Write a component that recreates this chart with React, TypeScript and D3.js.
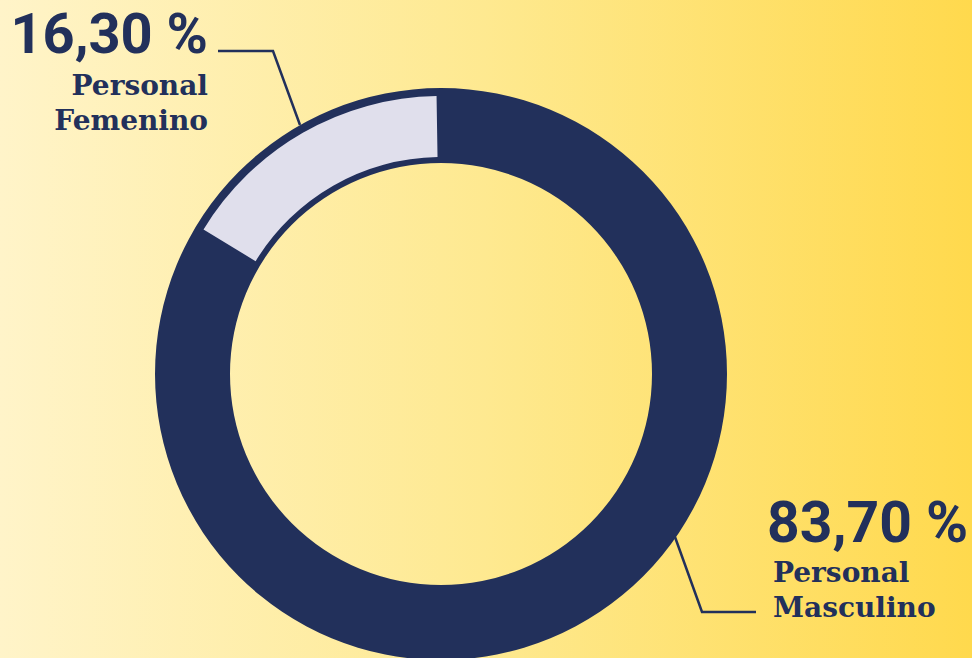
import React from "react";
import * as d3 from "d3";

const categories = ["Personal Femenino", "Personal Masculino"];
const values = [16.3, 83.7];
const valueLabels = ["16,30 %", "83,70 %"];
const labelLines = [
  ["Personal", "Femenino"],
  ["Personal", "Masculino"],
];

const W = 972;
const H = 658;
const NAVY = "#22305b";
const LIGHT = "#e0dfec";

export default function App() {
  const cx = 441;
  const cy = 374;
  const R = 286;
  const r = 211;
  const total = d3.sum(values);
  const angle = d3.scaleLinear().domain([0, total]).range([0, 2 * Math.PI]);
  const femAngle = angle(values[0]);

  const ring = d3.arc<any>().innerRadius(r).outerRadius(R).startAngle(0).endAngle(2 * Math.PI)({} as any) as string;
  const femArc = d3
    .arc<any>()
    .innerRadius(r + 6)
    .outerRadius(R - 8)
    .startAngle(-femAngle)
    .endAngle(-0.016)({} as any) as string;

  const font = "Roboto, 'Noto Sans', sans-serif";
  const slab = "'Roboto Slab', 'DejaVu Serif', serif";

  return (
    <svg width={W} height={H} style={{ position: "absolute", left: 0, top: 0 }}>
      <defs>
        <linearGradient id="bg" x1="0" x2="1" y1="0" y2="0">
          <stop offset="0" stopColor="#fff4c9" />
          <stop offset="0.5" stopColor="#fee990" />
          <stop offset="1" stopColor="#ffd94d" />
        </linearGradient>
      </defs>
      <rect x={0} y={0} width={W} height={H} fill="url(#bg)" />
      <g transform={`translate(${cx},${cy})`}>
        <path d={ring} fill={NAVY} />
        <path d={femArc} fill={LIGHT} />
      </g>
      <polyline points="218,51 273,51 300,125" fill="none" stroke={NAVY} strokeWidth={2.5} />
      <polyline points="675,537 702,612 756,612" fill="none" stroke={NAVY} strokeWidth={2.5} />
      <g fill={NAVY} fontWeight="bold">
        <text x={208} y={53} textAnchor="end" fontFamily={font} fontSize={56} aria-label={categories[0]}>
          {valueLabels[0]}
        </text>
        <text x={208} y={95} textAnchor="end" fontFamily={slab} fontSize={28}>
          {labelLines[0][0]}
        </text>
        <text x={208} y={130} textAnchor="end" fontFamily={slab} fontSize={28}>
          {labelLines[0][1]}
        </text>
        <text x={767} y={542} textAnchor="start" fontFamily={font} fontSize={57} aria-label={categories[1]}>
          {valueLabels[1]}
        </text>
        <text x={773} y={582} textAnchor="start" fontFamily={slab} fontSize={28}>
          {labelLines[1][0]}
        </text>
        <text x={773} y={617} textAnchor="start" fontFamily={slab} fontSize={28}>
          {labelLines[1][1]}
        </text>
      </g>
    </svg>
  );
}
